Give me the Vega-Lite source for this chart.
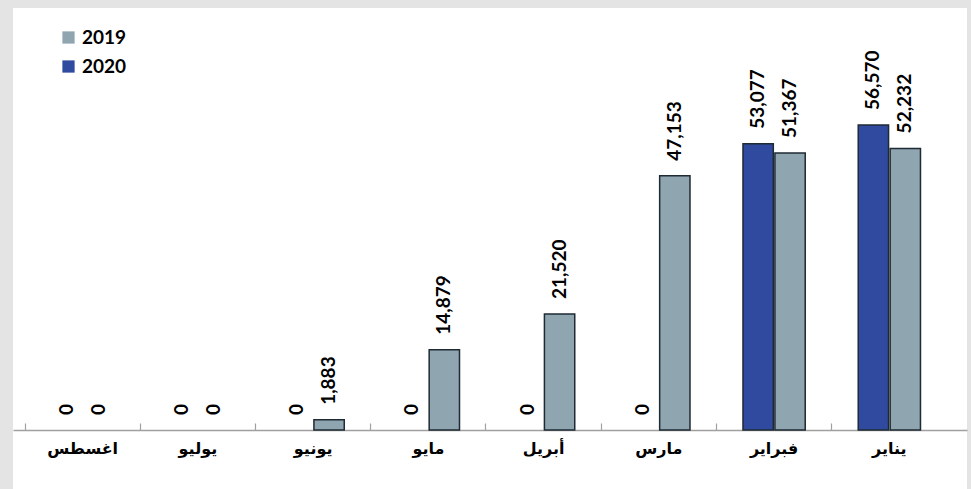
{
  "$schema": "https://vega.github.io/schema/vega-lite/v6.json",
  "autosize": {"type": "fit", "contains": "padding"},
  "width": 971,
  "height": 489,
  "background": "#e4e4e4",
  "padding": {"left": 13, "top": 8, "right": 4, "bottom": 0},
  "config": {"view": {"stroke": null, "fill": "white"}},
  "data": {"values": [
    {"month": "يناير", "year": "2020", "value": 56570},
    {"month": "يناير", "year": "2019", "value": 52232},
    {"month": "فبراير", "year": "2020", "value": 53077},
    {"month": "فبراير", "year": "2019", "value": 51367},
    {"month": "مارس", "year": "2020", "value": 0},
    {"month": "مارس", "year": "2019", "value": 47153},
    {"month": "أبريل", "year": "2020", "value": 0},
    {"month": "أبريل", "year": "2019", "value": 21520},
    {"month": "مايو", "year": "2020", "value": 0},
    {"month": "مايو", "year": "2019", "value": 14879},
    {"month": "يونيو", "year": "2020", "value": 0},
    {"month": "يونيو", "year": "2019", "value": 1883},
    {"month": "يوليو", "year": "2020", "value": 0},
    {"month": "يوليو", "year": "2019", "value": 0},
    {"month": "اغسطس", "year": "2020", "value": 0},
    {"month": "اغسطس", "year": "2019", "value": 0}
  ]},
  "encoding": {
    "x": {
      "field": "month", "type": "nominal",
      "sort": ["اغسطس", "يوليو", "يونيو", "مايو", "أبريل", "مارس", "فبراير", "يناير"],
      "scale": {"paddingInner": 0, "paddingOuter": 0.139, "align": 0.375},
      "axis": {
        "title": null, "offset": -59, "bandPosition": 0,
        "domainColor": "#a0a0a0", "domainWidth": 1.5,
        "tickColor": "#a0a0a0", "tickSize": -7, "tickWidth": 1.2,
        "labelAngle": 0, "labelPadding": 17,
        "labelFont": "DejaVu Sans", "labelFontWeight": "bold", "labelFontSize": 16, "labelColor": "black"
      }
    },
    "xOffset": {
      "field": "year", "type": "nominal", "sort": ["2020", "2019"],
      "scale": {"paddingInner": 0.05, "paddingOuter": 0.83}
    }
  },
  "layer": [
    {
      "transform": [{"filter": "datum.value > 0"}],
      "mark": {"type": "bar", "stroke": "#1f2a33", "strokeWidth": 1.5},
      "encoding": {
        "y": {"field": "value", "type": "quantitative", "scale": {"domain": [-10940, 78270], "nice": false, "zero": false}, "axis": null},
        "y2": {"datum": 0},
        "color": {
          "field": "year", "type": "nominal",
          "scale": {"domain": ["2019", "2020"], "range": ["#8fa5b0", "#2f4a9e"]},
          "legend": {
            "title": null, "orient": "none", "legendX": 46, "legendY": 20,
            "symbolType": "square", "symbolSize": 150, "symbolStrokeWidth": 0,
            "labelFont": "Lato", "labelFontWeight": "bold", "labelFontSize": 19, "labelColor": "black",
            "rowPadding": 9, "labelOffset": 4
          }
        }
      }
    },
    {
      "mark": {"type": "text", "angle": 270, "align": "left", "baseline": "middle", "dx": 15, "font": "Lato", "fontWeight": "bold", "fontSize": 19, "color": "black"},
      "encoding": {
        "y": {"field": "value", "type": "quantitative"},
        "text": {"field": "value", "type": "quantitative", "format": ","}
      }
    }
  ]
}
